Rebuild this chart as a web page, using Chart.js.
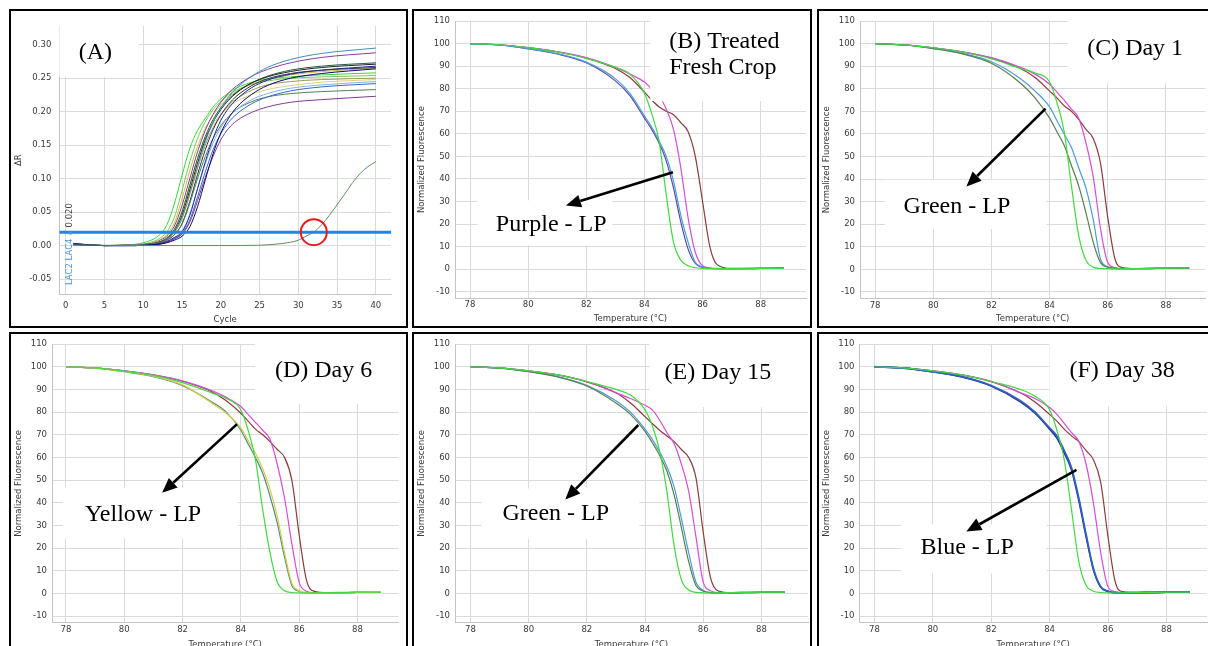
<!DOCTYPE html>
<html>
<head>
<meta charset="utf-8">
<title>qPCR amplification and melt curves</title>
<script src="https://cdn.jsdelivr.net/npm/chart.js@4.4.0/dist/chart.umd.min.js"></script>
<style>
  body { margin: 0; background: #fff; width: 1208px; height: 646px; overflow: hidden; position: relative; }
  .panel { position: absolute; border: 2px solid #000; box-sizing: border-box; }
  canvas { position: absolute; }
</style>
</head>
<body>

<script>
// ---------- (A) amplification plot ----------
const CYCLES = [1, 5, 9, 11, 12, 13, 14, 15, 16, 17, 18, 19, 20, 21, 22, 24, 26, 29, 33, 40];
const AMP_G1 = [0.001, 0, 0.002, 0.008, 0.015, 0.03, 0.062, 0.105, 0.145, 0.172, 0.19, 0.207, 0.219, 0.228, 0.235, 0.244, 0.249, 0.252, 0.255, 0.258];
const AMP_G2 = [0.001, 0, 0.001, 0.005, 0.01, 0.02, 0.042, 0.082, 0.125, 0.16, 0.185, 0.203, 0.215, 0.225, 0.232, 0.241, 0.246, 0.25, 0.252, 0.254];
const AMP_Y1 = [0.001, 0, 0.001, 0.004, 0.008, 0.016, 0.034, 0.07, 0.112, 0.148, 0.175, 0.195, 0.21, 0.222, 0.23, 0.241, 0.248, 0.255, 0.26, 0.265];
const AMP_Y2 = [0.001, 0, 0.001, 0.003, 0.006, 0.012, 0.025, 0.053, 0.092, 0.13, 0.16, 0.181, 0.196, 0.207, 0.215, 0.226, 0.233, 0.239, 0.244, 0.248];
const AMP_P1 = [0.002, 0, 0.001, 0.003, 0.007, 0.014, 0.029, 0.06, 0.1, 0.14, 0.172, 0.196, 0.214, 0.228, 0.238, 0.253, 0.263, 0.273, 0.281, 0.288];
const AMP_T1 = [0.001, 0, 0.001, 0.002, 0.004, 0.009, 0.02, 0.042, 0.078, 0.118, 0.155, 0.184, 0.205, 0.222, 0.235, 0.253, 0.266, 0.278, 0.287, 0.295];
const AMP_K1 = [0.003, 0, 0.001, 0.002, 0.005, 0.01, 0.021, 0.045, 0.083, 0.123, 0.158, 0.184, 0.203, 0.217, 0.228, 0.243, 0.252, 0.26, 0.266, 0.271];
const AMP_DG1 = [0.002, 0, 0.001, 0.003, 0.005, 0.011, 0.024, 0.05, 0.09, 0.13, 0.163, 0.188, 0.206, 0.219, 0.229, 0.243, 0.253, 0.262, 0.268, 0.273];
const AMP_N1 = [0.003, 0, 0, 0.001, 0.003, 0.006, 0.012, 0.02, 0.045, 0.085, 0.125, 0.16, 0.187, 0.205, 0.218, 0.236, 0.247, 0.256, 0.262, 0.268];
const AMP_N2 = [0.002, 0, 0, 0.001, 0.002, 0.004, 0.008, 0.014, 0.028, 0.058, 0.098, 0.137, 0.168, 0.19, 0.206, 0.226, 0.239, 0.25, 0.257, 0.264];
const AMP_K2 = [0.002, 0, 0, 0.002, 0.004, 0.008, 0.016, 0.033, 0.066, 0.106, 0.143, 0.173, 0.195, 0.211, 0.223, 0.239, 0.249, 0.257, 0.262, 0.266];
const AMP_LB = [0.001, 0, 0, 0.001, 0.003, 0.006, 0.012, 0.022, 0.047, 0.085, 0.122, 0.153, 0.176, 0.192, 0.203, 0.218, 0.227, 0.235, 0.24, 0.245];
const AMP_B1 = [0.001, 0, 0, 0.001, 0.002, 0.005, 0.01, 0.018, 0.038, 0.073, 0.11, 0.143, 0.167, 0.184, 0.196, 0.212, 0.222, 0.231, 0.237, 0.242];
const AMP_DG2 = [0.001, 0, 0, 0.002, 0.004, 0.008, 0.016, 0.032, 0.063, 0.1, 0.133, 0.16, 0.179, 0.193, 0.203, 0.215, 0.222, 0.227, 0.23, 0.233];
const AMP_P2 = [0.002, 0, 0, 0.001, 0.002, 0.005, 0.01, 0.017, 0.035, 0.067, 0.102, 0.133, 0.158, 0.175, 0.186, 0.199, 0.207, 0.214, 0.218, 0.223];
const AMP_O1 = [0.001, 0, 0.001, 0.002, 0.004, 0.009, 0.019, 0.04, 0.076, 0.115, 0.15, 0.176, 0.195, 0.209, 0.219, 0.232, 0.24, 0.245, 0.248, 0.25];
const LATE_CYCLES = [1, 10, 20, 25, 27, 29, 30, 31, 32, 33, 34, 35, 36, 37, 38, 39, 40];
const AMP_LATE = [0.001, 0, 0, 0.0005, 0.002, 0.005, 0.008, 0.014, 0.02, 0.031, 0.045, 0.061, 0.077, 0.094, 0.108, 0.118, 0.1255];
const THRESHOLD = 0.02;
const CIRCLED_CYCLE = 32;
const CYCLE_TICKS = [0, 5, 10, 15, 20, 25, 30, 35, 40];
const DR_TICKS = [-0.05, 0, 0.05, 0.1, 0.15, 0.2, 0.25, 0.3];

// ---------- (B)-(F) melt curves ----------
const TEMP = [78, 79, 80, 81, 82, 83, 83.5, 84, 84.25, 84.5, 84.75, 85, 85.25, 85.5, 85.75, 86, 86.25, 86.5, 87, 88, 88.8];
const TEMP_TICKS = [78, 80, 82, 84, 86, 88];
const NF_TICKS = [-10, 0, 10, 20, 30, 40, 50, 60, 70, 80, 90, 100, 110];

const B_GREEN   = [100, 99.5, 98.2, 96.3, 93.5, 89.5, 86.5, 78, 69, 57, 33, 12, 4, 1.5, 0.6, 0.3, 0.2, 0.2, 0.2, 0.3, 0.4];
const B_BLUE    = [100, 99.4, 97.8, 95.6, 91.8, 84.5, 78, 68, 63, 57, 50, 39, 24, 12, 3, 1, 0.4, 0.2, 0.2, 0.3, 0.4];
const B_PURPLE  = [100, 99.4, 97.7, 95.4, 91.5, 83.5, 77, 67, 62, 56, 48, 36, 21, 9, 2.5, 0.8, 0.3, 0.2, 0.2, 0.3, 0.4];
const B_MAGENTA = [100, 99.5, 98.2, 96.4, 93.8, 89.5, 86.5, 83, 80, 77, 71, 62, 45, 23, 7.5, 1.5, 0.5, 0.3, 0.2, 0.4, 0.5];
const B_BROWN   = [100, 99.5, 98.2, 96.4, 93.6, 89, 85, 78.5, 75, 72, 70, 68.5, 65, 61, 50, 30, 10, 2, 0.3, 0.3, 0.5];

const C_GREEN   = [100, 99.5, 98.2, 96.3, 93.3, 89, 87, 83, 74, 61, 37, 15, 4, 1, 0.4, 0.3, 0.2, 0.3, 0.4, 0.6, 0.7];
const C_DKGREEN = [100, 99.4, 97.8, 95.5, 91.3, 82.5, 76, 67, 61, 55, 46, 37, 25, 12, 3, 1, 0.4, 0.3, 0.4, 0.6, 0.7];
const C_BLUE    = [100, 99.4, 97.9, 95.7, 92, 84.5, 79, 72, 66, 60, 54, 45, 36, 22, 4.5, 1.2, 0.4, 0.3, 0.3, 0.5, 0.6];
const C_MAGENTA = [100, 99.5, 98.2, 96.4, 93.8, 89.5, 86.5, 82, 78.5, 75, 71, 67, 56, 41, 18, 3, 0.8, 0.3, 0.3, 0.5, 0.6];
const C_BROWN   = [100, 99.5, 98.2, 96.4, 93.6, 89, 85, 79, 76, 72.5, 70, 66.5, 62, 58, 47, 23, 4.5, 0.8, 0.3, 0.5, 0.7];

const D_GREEN   = [100, 99.5, 98.1, 96.2, 93, 88.5, 86, 81, 72, 59, 37, 18, 5, 1.2, 0.4, 0.3, 0.2, 0.3, 0.4, 0.6, 0.5];
const D_YELLOW  = [100, 99.4, 97.9, 95.8, 92, 84, 79.5, 73, 67.5, 62, 55, 46, 34, 18, 4.5, 1.2, 0.4, 0.3, 0.3, 0.5, 0.5];
const D_TEAL    = [100, 99.4, 97.8, 95.6, 91.7, 84.5, 80, 72, 66, 60, 53, 43, 31, 16, 3.5, 1, 0.3, 0.3, 0.3, 0.5, 0.5];
const D_MAGENTA = [100, 99.5, 98.2, 96.4, 93.8, 89.5, 86.5, 82.5, 79, 75.5, 72, 68, 57, 42, 22, 5, 1, 0.3, 0.3, 0.5, 0.5];
const D_BROWN   = [100, 99.5, 98.2, 96.4, 93.6, 89, 85, 79.5, 76, 72.5, 70, 67, 63.5, 60, 50, 26, 6, 1, 0.3, 0.5, 0.5];

const E_GREEN   = [100, 99.5, 98.2, 96.4, 93.5, 90, 87.5, 81, 74, 63, 45, 21, 6, 1.5, 0.5, 0.3, 0.2, 0.3, 0.4, 0.6, 0.6];
const E_DKGREEN = [100, 99.4, 97.8, 95.5, 91.5, 84, 79, 71.5, 66.5, 61, 54, 43.5, 29, 14, 3.5, 1, 0.4, 0.3, 0.4, 0.6, 0.6];
const E_BLUE    = [100, 99.4, 97.9, 95.7, 91.8, 85, 80, 72.5, 68, 62.5, 56, 47, 33, 18, 5, 1.3, 0.4, 0.3, 0.4, 0.6, 0.6];
const E_MAGENTA = [100, 99.5, 98.2, 96.4, 93.5, 88.5, 86, 83, 81, 76.5, 71, 66, 57, 45, 25, 5, 1.2, 0.4, 0.3, 0.5, 0.5];
const E_BROWN   = [100, 99.5, 98.2, 96.4, 93.3, 88.5, 84, 78, 75, 72, 69.5, 67, 63.5, 60, 51, 27, 7, 1.2, 0.3, 0.5, 0.5];

const F_GREEN   = [100, 99.5, 98.2, 96.4, 93.5, 90, 87, 81, 72, 59, 37, 14, 3.5, 1, 0.4, 0.3, 0.2, 0.3, 0.4, 0.6, 0.6];
const F_BLUE    = [100, 99.4, 97.8, 95.6, 91.7, 85, 80, 73, 69.5, 63, 55.5, 42, 26, 11, 3, 1, 0.3, 0.3, 0.4, 0.6, 0.6];
const F_NAVY    = [100, 99.4, 97.8, 95.5, 91.5, 84.5, 79.5, 72.5, 68.5, 62, 54.5, 41, 25, 10.5, 2.8, 0.9, 0.3, 0.3, 0.4, 0.6, 0.6];
const F_MAGENTA = [100, 99.5, 98.2, 96.4, 93.6, 88.5, 86, 82, 79, 75, 71, 67, 57, 40, 18, 3, 0.8, 0.3, 0.3, 0.5, 0.5];
const F_BROWN   = [100, 99.5, 98.2, 96.4, 93.4, 88.5, 84.5, 79, 76, 72.5, 69.5, 67, 63, 59, 49, 25, 5, 0.8, 0.3, 0.5, 0.6];

const COL = {
  green: '#41d941', dkgreen: '#56804f', blue: '#4d9bdb', purple: '#5a4aa8', magenta: '#d64ed6',
  brown: '#8b3b3b', yellow: '#d8cb4c', teal: '#4f8d7f', navy: '#1f2f8f', deepblue: '#3060c0'
};

// panel frames: outer box, canvas, plot area (page pixels)
const PANELS = {
  A: {box: [9, 9, 399, 319],   cv: [11, 11, 395, 315],  plot: [59.3, 17.3, 402.5, 294.3]},
  B: {box: [412, 9, 400, 319], cv: [414, 11, 396, 315], plot: [455, 16.7, 806, 298], xr: [77.484, 89.558], yr: [-12.8, 110]},
  C: {box: [817, 9, 393, 319], cv: [819, 11, 389, 315], plot: [860, 18.3, 1205.5, 298.5], xr: [77.48, 89.36], yr: [-12.9, 110]},
  D: {box: [9, 332, 399, 340], cv: [11, 334, 395, 319], plot: [52, 343.3, 398.5, 622.7], xr: [77.52, 89.41], yr: [-12.9, 110]},
  E: {box: [412, 332, 400, 340], cv: [414, 334, 396, 319], plot: [455, 343.3, 808, 622.7], xr: [77.47, 89.6], yr: [-12.9, 110]},
  F: {box: [817, 332, 393, 340], cv: [819, 334, 389, 319], plot: [859.5, 343.3, 1207, 622.7], xr: [77.49, 89.39], yr: [-12.9, 110]}
};

const TICK_FONT = {family: 'DejaVu Sans', size: 8.5};
const TEXT_COLOR = '#3a3a3a';
const GRID = '#dadada';
const SERIF = '24px "Liberation Serif", "Times New Roman", serif';

Chart.defaults.font.family = 'DejaVu Sans';

const pts = (xs, ys) => ys.map((v, i) => ({x: xs[i], y: v}));

// white label boxes, serif labels and arrows, all placed in data units
const notesPlugin = {
  id: 'notes',
  afterDatasetsDraw(chart, args, o) {
    const {ctx, chartArea: a, scales: {x, y}} = chart;
    ctx.save();
    ctx.beginPath();
    ctx.rect(a.left, a.top, a.right - a.left, a.bottom - a.top);
    ctx.clip();
    ctx.fillStyle = '#fff';
    (o.boxes || []).forEach(b => {
      const x1 = x.getPixelForValue(b[0]), x2 = x.getPixelForValue(b[2]);
      const y1 = y.getPixelForValue(b[1]), y2 = y.getPixelForValue(b[3]);
      ctx.fillRect(Math.min(x1, x2), Math.min(y1, y2), Math.abs(x2 - x1), Math.abs(y2 - y1));
    });
    ctx.restore();

    ctx.save();
    ctx.fillStyle = '#000';
    ctx.font = SERIF;
    ctx.textAlign = 'left';
    ctx.textBaseline = 'alphabetic';
    (o.texts || []).forEach(t => {
      ctx.fillText(t.text, x.getPixelForValue(t.x), y.getPixelForValue(t.y));
    });

    (o.arrows || []).forEach(ar => {
      const x0 = x.getPixelForValue(ar[0]), y0 = y.getPixelForValue(ar[1]);
      const x1 = x.getPixelForValue(ar[2]), y1 = y.getPixelForValue(ar[3]);
      const ang = Math.atan2(y1 - y0, x1 - x0);
      const head = 15, half = 6.5;
      const bx = x1 - head * Math.cos(ang), by = y1 - head * Math.sin(ang);
      ctx.strokeStyle = '#000';
      ctx.lineWidth = 2.6;
      ctx.beginPath();
      ctx.moveTo(x0, y0);
      ctx.lineTo(bx, by);
      ctx.stroke();
      ctx.beginPath();
      ctx.moveTo(x1, y1);
      ctx.lineTo(bx + half * Math.sin(ang), by - half * Math.cos(ang));
      ctx.lineTo(bx - half * Math.sin(ang), by + half * Math.cos(ang));
      ctx.closePath();
      ctx.fill();
    });

    if (o.threshold) {
      const th = o.threshold;
      ctx.translate(x.getPixelForValue(th.x), y.getPixelForValue(th.y));
      ctx.rotate(-Math.PI / 2);
      ctx.font = '8.5px "DejaVu Sans"';
      ctx.textBaseline = 'middle';
      ctx.fillStyle = '#4a94d4';
      ctx.fillText(th.name, 0, 0);
      let w = ctx.measureText(th.name).width + 4;
      ctx.fillRect(w, -1.5, 3, 3);
      w += 7;
      ctx.fillStyle = '#444';
      ctx.fillText(th.value, w, 0);
    }
    ctx.restore();
  }
};

function makeFrame(key) {
  const p = PANELS[key];
  const box = document.createElement('div');
  box.className = 'panel';
  box.style.left = p.box[0] + 'px';
  box.style.top = p.box[1] + 'px';
  box.style.width = p.box[2] + 'px';
  box.style.height = p.box[3] + 'px';
  document.body.appendChild(box);
  const cv = document.createElement('canvas');
  cv.width = p.cv[2];
  cv.height = p.cv[3];
  cv.style.left = p.cv[0] + 'px';
  cv.style.top = p.cv[1] + 'px';
  cv.style.width = p.cv[2] + 'px';
  cv.style.height = p.cv[3] + 'px';
  document.body.appendChild(cv);
  const [cx, cy, cw, ch] = p.cv, [l, t, r, b] = p.plot;
  return {cv, yW: l - cx, xH: cy + ch - b, padTop: t - cy, padRight: cx + cw - r};
}

function axes(g, o) {
  return {
    x: {
      type: 'linear', min: o.xmin, max: o.xmax,
      afterBuildTicks: s => { s.ticks = o.xticks.map(v => ({value: v})); },
      afterFit: s => { s.height = g.xH; },
      ticks: {font: TICK_FONT, color: TEXT_COLOR, padding: o.xpad, maxRotation: 0, autoSkip: false,
              callback: v => String(v)},
      grid: {color: GRID, drawTicks: false},
      border: {color: '#c4c4c4'},
      title: {display: true, text: o.xtitle, font: TICK_FONT, color: TEXT_COLOR, padding: {top: 0, bottom: o.xtpad}}
    },
    y: {
      type: 'linear', min: o.ymin, max: o.ymax,
      afterBuildTicks: s => { s.ticks = o.yticks.map(v => ({value: v})); },
      afterFit: s => { s.width = g.yW; },
      ticks: {font: TICK_FONT, color: TEXT_COLOR, padding: o.ypad, autoSkip: false, callback: o.yfmt},
      grid: {color: GRID, drawTicks: false},
      border: {color: '#c4c4c4'},
      title: {display: true, text: o.ytitle, font: TICK_FONT, color: TEXT_COLOR, padding: {top: 3, bottom: 0}}
    }
  };
}

function baseOptions(g, scales, notes) {
  return {
    responsive: false, animation: false, devicePixelRatio: 1, events: [],
    layout: {padding: {top: g.padTop, right: g.padRight, left: 0, bottom: 0}},
    plugins: {legend: {display: false}, tooltip: {enabled: false}, notes: notes},
    scales: scales
  };
}

// ---------- panel A ----------
(function () {
  const g = makeFrame('A');
  const xmin = -0.835, xmax = 41.96;
  const curves = [
    ['#0c0c70', AMP_N2], ['#1c2890', AMP_N1], ['#7c3c90', AMP_P2], ['#3866c8', AMP_B1],
    ['#80b4e4', AMP_LB], ['#4f7f57', AMP_DG2], ['#303050', AMP_K2], ['#9c9c50', AMP_O1],
    ['#3a90c0', AMP_T1], ['#202020', AMP_K1], ['#1f5f3f', AMP_DG1], ['#e2d070', AMP_Y2],
    ['#8a3c9c', AMP_P1], ['#cfc040', AMP_Y1], ['#72c860', AMP_G2], ['#38d838', AMP_G1]
  ];
  const datasets = [
    {data: [{x: CIRCLED_CYCLE, y: THRESHOLD}], showLine: false, pointRadius: 13, pointBorderWidth: 2,
     pointBorderColor: '#e8191c', pointBackgroundColor: 'rgba(0,0,0,0)', order: -2},
    {data: [{x: xmin, y: THRESHOLD}, {x: xmax, y: THRESHOLD}], borderColor: '#1e86e2', borderWidth: 3,
     pointRadius: 0, order: -1},
    {data: pts(LATE_CYCLES, AMP_LATE), borderColor: '#5f8f5f', borderWidth: 1, pointRadius: 0,
     cubicInterpolationMode: 'monotone'}
  ];
  curves.forEach(c => datasets.push({data: pts(CYCLES, c[1]), borderColor: c[0], borderWidth: 1,
    pointRadius: 0, cubicInterpolationMode: 'monotone'}));
  const scales = axes(g, {xmin, xmax, ymin: -0.0728, ymax: 0.328, xticks: CYCLE_TICKS, yticks: DR_TICKS,
    xtitle: 'Cycle', ytitle: 'ΔR', xpad: 6, xtpad: 1.5, ypad: 8, yfmt: v => v.toFixed(2)});
  const notes = {
    boxes: [[-5, 0.252, 9.44, 1]],
    texts: [{text: '(A)', x: 1.66, y: 0.278}],
    threshold: {name: 'LAC2 LAC4', value: '0.020', x: 0.58, y: -0.059}
  };
  new Chart(g.cv, {type: 'line', data: {datasets}, options: baseOptions(g, scales, notes), plugins: [notesPlugin]});
})();

// ---------- melt panels ----------
function meltPanel(key, series, notes) {
  const g = makeFrame(key);
  const p = PANELS[key];
  const datasets = series.map(s => ({
    data: pts(TEMP, s[1]), borderColor: COL[s[0]], borderWidth: s[2] || 1.2,
    pointRadius: 0, cubicInterpolationMode: 'monotone'
  }));
  const scales = axes(g, {xmin: p.xr[0], xmax: p.xr[1], ymin: p.yr[0], ymax: p.yr[1],
    xticks: TEMP_TICKS, yticks: NF_TICKS, xtitle: 'Temperature (°C)', ytitle: 'Normalized Fluorescence',
    xpad: 2, xtpad: key < 'D' ? 2.5 : 3, ypad: 5, yfmt: v => String(v)});
  new Chart(g.cv, {type: 'line', data: {datasets}, options: baseOptions(g, scales, notes), plugins: [notesPlugin]});
}

meltPanel('B',
  [['green', B_GREEN], ['blue', B_BLUE], ['purple', B_PURPLE], ['magenta', B_MAGENTA], ['brown', B_BROWN]],
  {boxes: [[84.2, 74.5, 99, 200], [78.25, 10.5, 82.9, 30.5]],
   texts: [{text: '(B) Treated', x: 84.85, y: 98.1}, {text: 'Fresh Crop', x: 84.85, y: 86.5},
           {text: 'Purple - LP', x: 78.89, y: 16.9}],
   arrows: [[84.98, 43, 81.3, 28.2]]});

meltPanel('C',
  [['green', C_GREEN], ['dkgreen', C_DKGREEN], ['blue', C_BLUE], ['magenta', C_MAGENTA], ['brown', C_BROWN]],
  {boxes: [[84.62, 82.5, 99, 200], [78.33, 17.9, 83.89, 39.7]],
   texts: [{text: '(C) Day 1', x: 85.29, y: 94.9}, {text: 'Green - LP', x: 78.98, y: 25}],
   arrows: [[83.86, 71.2, 81.14, 36.7]]});

meltPanel('D',
  [['green', D_GREEN], ['yellow', D_YELLOW], ['teal', D_TEAL], ['magenta', D_MAGENTA], ['brown', D_BROWN]],
  {boxes: [[84.49, 83.5, 99, 200], [77.9, 24.3, 83.9, 46.6]],
   texts: [{text: '(D) Day 6', x: 85.17, y: 95.7}, {text: 'Yellow - LP', x: 78.65, y: 32.1}],
   arrows: [[83.87, 74.7, 81.3, 44.4]]});

meltPanel('E',
  [['green', E_GREEN], ['dkgreen', E_DKGREEN], ['blue', E_BLUE], ['magenta', E_MAGENTA], ['brown', E_BROWN]],
  {boxes: [[84.15, 82.2, 99, 200], [78.38, 23.9, 83.8, 46.3]],
   texts: [{text: '(E) Day 15', x: 84.67, y: 94.6}, {text: 'Green - LP', x: 79.1, y: 32.5}],
   arrows: [[83.77, 74.3, 81.26, 41.4]]});

meltPanel('F',
  [['green', F_GREEN], ['deepblue', F_BLUE, 1.8], ['navy', F_NAVY, 1.6], ['magenta', F_MAGENTA], ['brown', F_BROWN]],
  {boxes: [[83.99, 82.6, 99, 200], [78.92, 8.9, 83.89, 30.4]],
   texts: [{text: '(F) Day 38', x: 84.68, y: 95.7}, {text: 'Blue - LP', x: 79.58, y: 17.5}],
   arrows: [[84.92, 54.5, 81.15, 27.3]]});
</script>

</body>
</html>
